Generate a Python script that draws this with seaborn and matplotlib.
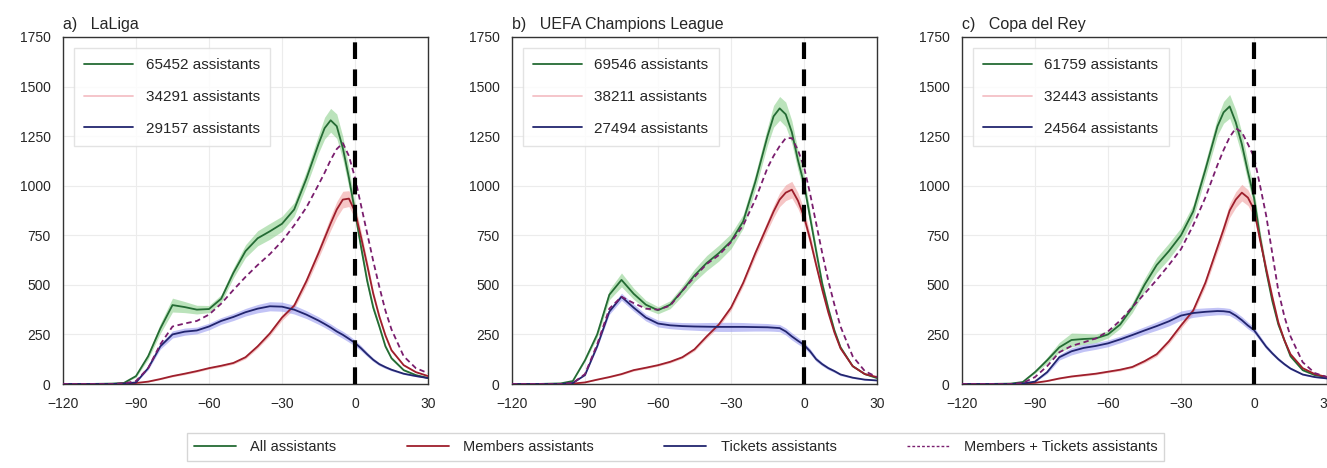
import numpy as np
import pandas as pd
import seaborn as sns
import matplotlib.pyplot as plt
from matplotlib.lines import Line2D

# minutes relative to kick-off (finer steps around the peak)
minutes = [-120, -110, -100, -95, -90, -85, -80, -75, -70, -65, -60, -55, -50, -45, -40, -35,
           -30, -25, -20, -15, -12.5, -10, -7.5, -5, -2.5, 0, 2.5, 5, 7.5, 10, 12.5, 15, 20, 25, 30]

# a) LaLiga
laliga_all = [0, 0, 2, 5, 40, 140, 280, 398, 388, 375, 378, 430, 560, 670, 735, 770,
              808, 880, 1035, 1210, 1290, 1330, 1300, 1190, 1040, 870, 690, 520, 385, 290, 190, 130, 70, 45, 30]
laliga_members = [0, 0, 0, 2, 5, 12, 25, 40, 52, 65, 80, 92, 106, 135, 190, 255,
                  335, 395, 518, 660, 735, 810, 880, 930, 935, 870, 740, 600, 455, 340, 245, 170, 95, 60, 40]
laliga_tickets = [0, 0, 0, 2, 8, 80, 190, 250, 264, 270, 290, 318, 338, 362, 380, 392,
                  390, 375, 350, 320, 303, 285, 265, 248, 228, 207, 180, 150, 122, 100, 85, 72, 52, 40, 30]
laliga_both = [0, 0, 0, 3, 15, 80, 200, 290, 305, 318, 350, 405, 474, 540, 600, 655,
               720, 800, 890, 1005, 1065, 1130, 1185, 1215, 1150, 1040, 900, 760, 620, 490, 370, 275, 140, 80, 55]

# b) UEFA Champions League
ucl_all = [0, 0, 3, 15, 120, 250, 450, 525, 455, 400, 372, 400, 470, 548, 610, 660,
           720, 820, 1020, 1250, 1350, 1390, 1360, 1270, 1130, 1010, 840, 670, 505, 380, 270, 185, 90, 50, 30]
ucl_members = [0, 0, 0, 2, 8, 22, 35, 50, 70, 82, 95, 112, 135, 175, 240, 300,
               385, 510, 660, 800, 870, 930, 965, 980, 925, 845, 730, 600, 475, 360, 260, 180, 90, 50, 35]
ucl_tickets = [0, 0, 0, 5, 45, 190, 365, 440, 385, 335, 305, 296, 292, 290, 289, 288,
               288, 288, 287, 286, 284, 282, 265, 240, 218, 197, 165, 125, 100, 80, 65, 48, 32, 22, 18]
ucl_both = [0, 0, 0, 5, 50, 200, 380, 440, 408, 380, 375, 395, 470, 540, 605, 650,
            715, 800, 930, 1090, 1150, 1200, 1240, 1240, 1180, 1095, 960, 810, 660, 520, 400, 290, 140, 65, 35]

# c) Copa del Rey
copa_all = [0, 0, 2, 10, 60, 120, 185, 222, 227, 230, 250, 300, 385, 500, 600, 670,
            750, 870, 1080, 1300, 1370, 1400, 1320, 1210, 1070, 940, 740, 570, 420, 300, 220, 140, 70, 45, 35]
copa_members = [0, 0, 0, 2, 6, 15, 28, 38, 45, 52, 62, 72, 86, 115, 150, 215,
                295, 370, 510, 690, 780, 875, 930, 965, 940, 880, 726, 580, 440, 310, 220, 150, 80, 50, 35]
copa_tickets = [0, 0, 0, 3, 12, 60, 135, 165, 182, 192, 205, 225, 247, 270, 292, 316,
                345, 358, 364, 368, 367, 363, 345, 322, 295, 272, 230, 188, 155, 125, 100, 78, 48, 35, 28]
copa_both = [0, 0, 0, 5, 35, 90, 160, 192, 210, 230, 265, 320, 388, 455, 525, 600,
             680, 800, 940, 1105, 1180, 1245, 1290, 1270, 1210, 1145, 1000, 850, 660, 470, 340, 240, 110, 55, 35]

# confidence band half-widths
all_ci = [0, 0, 0, 1, 6, 15, 25, 35, 28, 22, 18, 20, 25, 32, 38, 40,
          38, 35, 38, 45, 55, 60, 62, 58, 50, 42, 32, 24, 18, 14, 10, 8, 5, 3, 2]
members_ci = [0, 0, 0, 0, 1, 2, 3, 4, 5, 5, 5, 6, 6, 8, 10, 12,
              14, 16, 20, 25, 30, 35, 40, 42, 40, 36, 30, 24, 18, 14, 10, 8, 5, 3, 2]
tickets_ci = [0, 0, 0, 0, 2, 8, 14, 18, 18, 17, 17, 17, 18, 19, 21, 23,
              23, 22, 20, 19, 18, 18, 18, 18, 17, 15, 13, 11, 9, 8, 7, 6, 4, 3, 2]

titles = ["a)   LaLiga", "b)   UEFA Champions League", "c)   Copa del Rey"]
counts = [["65452", "34291", "29157"], ["69546", "38211", "27494"], ["61759", "32443", "24564"]]
series_names = ["All assistants", "Members assistants", "Tickets assistants", "Members + Tickets assistants"]

panels = [
    [laliga_all, laliga_members, laliga_tickets, laliga_both],
    [ucl_all, ucl_members, ucl_tickets, ucl_both],
    [copa_all, copa_members, copa_tickets, copa_both],
]

line_colors = ["#246b34", "#9e1f2c", "#22256e", "#7a1e6e"]
band_colors = ["#8fd18f", "#f0a0a0", "#9a9cf0"]

sns.set_theme(style="whitegrid")
plt.rcParams['font.family'] = ['Liberation Sans', 'DejaVu Sans']

fig = plt.figure(figsize=(13.27, 4.68), dpi=100)
lefts = [63, 512, 962]

for i, vals in enumerate(panels):
    ax = fig.add_axes([lefts[i] / 1327, 1 - 384 / 468, 365 / 1327, 347 / 468])

    for v, ci, bc in zip(vals[:3], [all_ci, members_ci, tickets_ci], band_colors):
        v = np.array(v, dtype=float)
        ci = np.array(ci, dtype=float)
        ax.fill_between(minutes, v - ci, v + ci, color=bc, alpha=0.6, lw=0, zorder=1)

    df = pd.DataFrame({"minute": minutes})
    for name, v in zip(series_names, vals):
        df[name] = v
    long = df.melt(id_vars="minute", var_name="series", value_name="value")

    sns.lineplot(data=long, x="minute", y="value", hue="series", style="series",
                 palette=dict(zip(series_names, line_colors)),
                 dashes={series_names[0]: "", series_names[1]: "", series_names[2]: "",
                         series_names[3]: (3, 2)},
                 linewidth=1.3, legend=False, ax=ax, zorder=3)

    ax.axvline(0, color="black", lw=3, ls=(0, (4, 2.5)), zorder=4)

    ax.set_xlim(-120, 30)
    ax.set_ylim(0, 1750)
    ax.set_xticks(range(-120, 31, 30))
    ax.set_yticks(range(0, 1751, 250))
    ax.set_xlabel("")
    ax.set_ylabel("")
    ax.tick_params(labelsize=10, pad=3)
    ax.grid(color="#ececec", lw=0.8)
    for sp in ax.spines.values():
        sp.set_edgecolor("#333333")
        sp.set_linewidth(1.0)
    ax.set_title(titles[i], loc="left", fontsize=11.5, pad=6)

    handles = [Line2D([], [], color=line_colors[0], lw=1.3),
               Line2D([], [], color="#f4c0c6", lw=1.3),
               Line2D([], [], color=line_colors[2], lw=1.3)]
    ax.legend(handles, [c + " assistants" for c in counts[i]], loc="upper left",
              fontsize=11, frameon=True, borderpad=0.7, labelspacing=1.15,
              handlelength=3.2, handletextpad=0.8, borderaxespad=0.7,
              edgecolor="#dddddd", fancybox=False)

fig_handles = [Line2D([], [], color=line_colors[0], lw=1.3),
               Line2D([], [], color=line_colors[1], lw=1.3),
               Line2D([], [], color=line_colors[2], lw=1.3),
               Line2D([], [], color=line_colors[3], lw=1.0, ls=(0, (2, 1.5)))]
fig.legend(fig_handles, series_names, loc="center", bbox_to_anchor=(0.509, 0.045), ncol=4,
           fontsize=10.5, frameon=True, handlelength=2.9, handletextpad=1.0, columnspacing=4.8,
           edgecolor="#cccccc", fancybox=False, borderpad=0.45)

fig.savefig("out.png", dpi=100)
